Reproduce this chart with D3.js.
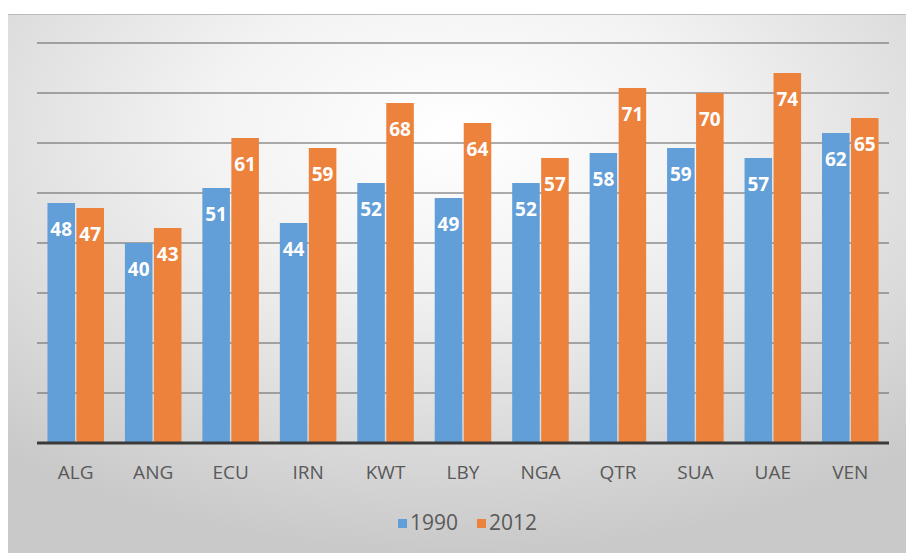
<!DOCTYPE html>
<html>
<head>
<meta charset="utf-8">
<title>1990 vs 2012</title>
<script src="https://d3js.org/d3.v7.min.js"></script>
<style>
  body { margin: 0; background: #fff; }
  svg { display: block; font-family: "Open Sans", sans-serif; }
</style>
</head>
<body>
<div id="chart"></div>
<script>
// Data
const countries = ["ALG", "ANG", "ECU", "IRN", "KWT", "LBY", "NGA", "QTR", "SUA", "UAE", "VEN"];
const series = ["1990", "2012"];
const values1990 = [48, 40, 51, 44, 52, 49, 52, 58, 59, 57, 62];
const values2012 = [47, 43, 61, 59, 68, 64, 57, 71, 70, 74, 65];
const gridTicks = [10, 20, 30, 40, 50, 60, 70, 80];

const colors = { "1990": "#629ed7", "2012": "#ed823c" };

const width = 906, height = 553;
const margin = { top: 43, right: 17, bottom: 110, left: 37 };

const svg = d3.select("#chart").append("svg")
  .attr("width", width)
  .attr("height", height);

// Background gradient
const defs = svg.append("defs");
const grad = defs.append("radialGradient")
  .attr("id", "bg")
  .attr("cx", "50%").attr("cy", "22%").attr("r", "78%");
grad.append("stop").attr("offset", "0%").attr("stop-color", "#ffffff");
grad.append("stop").attr("offset", "35%").attr("stop-color", "#f3f3f3");
grad.append("stop").attr("offset", "100%").attr("stop-color", "#c9c9c9");

svg.append("rect")
  .attr("x", 8).attr("y", 14)
  .attr("width", width - 8).attr("height", height - 14)
  .attr("fill", "url(#bg)");

svg.append("line")
  .attr("x1", 8).attr("x2", width)
  .attr("y1", 14.5).attr("y2", 14.5)
  .attr("stroke", "#bcbcbc").attr("stroke-width", 1);

// Scales
const x = d3.scaleBand()
  .domain(countries)
  .range([margin.left, width - margin.right])
  .paddingInner(0.27)
  .paddingOuter(0.135);

const xs = d3.scaleBand()
  .domain(series)
  .range([0, x.bandwidth()])
  .paddingInner(0.05);

const y = d3.scaleLinear()
  .domain([0, 80])
  .range([443, margin.top]);

// Gridlines
svg.append("g")
  .selectAll("line")
  .data(gridTicks)
  .join("line")
  .attr("x1", margin.left)
  .attr("x2", width - margin.right)
  .attr("y1", d => y(d))
  .attr("y2", d => y(d))
  .attr("stroke", "#6a6a6a")
  .attr("stroke-opacity", 0.55)
  .attr("stroke-width", 2);

// Bars
const rows = countries.map((c, i) => ({ country: c, "1990": values1990[i], "2012": values2012[i] }));

const groups = svg.append("g")
  .selectAll("g")
  .data(rows)
  .join("g")
  .attr("transform", d => `translate(${x(d.country)},0)`);

const cells = groups.selectAll("g")
  .data(d => series.map(s => ({ key: s, value: d[s] })))
  .join("g");

cells.append("rect")
  .attr("x", d => xs(d.key))
  .attr("y", d => y(d.value))
  .attr("width", xs.bandwidth())
  .attr("height", d => y(0) - y(d.value))
  .attr("fill", d => colors[d.key]);

cells.append("text")
  .attr("x", d => xs(d.key) + xs.bandwidth() / 2)
  .attr("y", d => y(d.value) + 33)
  .attr("text-anchor", "middle")
  .attr("font-size", 19)
  .attr("font-weight", 700)
  .attr("fill", "#ffffff")
  .text(d => d.value);

// Baseline
svg.append("line")
  .attr("x1", margin.left)
  .attr("x2", width - margin.right)
  .attr("y1", y(0))
  .attr("y2", y(0))
  .attr("stroke", "#3a3a3a")
  .attr("stroke-width", 3);

// X axis
const xAxis = svg.append("g")
  .attr("transform", `translate(0,${y(0)})`)
  .call(d3.axisBottom(x).tickSize(0).tickPadding(0));
xAxis.select(".domain").remove();
xAxis.selectAll("text")
  .attr("dy", null)
  .attr("y", 36)
  .attr("font-family", "'Open Sans', sans-serif")
  .attr("font-size", 19)
  .attr("fill", "#595959");

// Legend
const legend = svg.append("g").attr("transform", "translate(398,530)");
const legendItems = [
  { key: "1990", dx: 0 },
  { key: "2012", dx: 79 }
];
legendItems.forEach(item => {
  legend.append("rect")
    .attr("x", item.dx)
    .attr("y", -11)
    .attr("width", 9)
    .attr("height", 9)
    .attr("fill", colors[item.key]);
  legend.append("text")
    .attr("x", item.dx + 12)
    .attr("y", 0)
    .attr("font-size", 21)
    .attr("fill", "#595959")
    .text(item.key);
});
</script>
</body>
</html>
